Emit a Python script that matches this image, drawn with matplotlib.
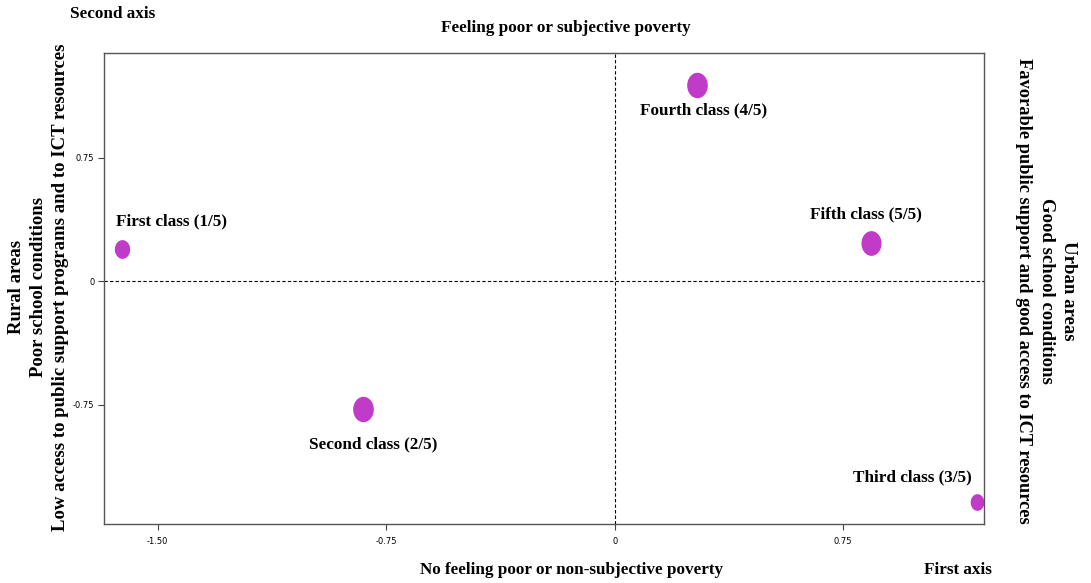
import numpy as np
import matplotlib.pyplot as plt
from matplotlib.path import Path

# Coordenadas de las clases en el plano factorial
classes = ['First class (1/5)', 'Second class (2/5)', 'Third class (3/5)',
           'Fourth class (4/5)', 'Fifth class (5/5)']
axis1 = [-1.618, -0.827, 1.188, 0.269, 0.841]
axis2 = [0.196, -0.776, -1.342, 1.189, 0.232]

xticks = [-1.50, -0.75, 0, 0.75]
xtick_labels = ['-1.50', '-0.75', '0', '0.75']
yticks = [-0.75, 0, 0.75]
ytick_labels = ['-0.75', '0', '0.75']

# estilo de los marcadores y etiquetas
marker_h = [12.5, 17.3, 11.0, 17.3, 16.8]
label_offset = [(-6, 27, 'left'), (11, -35, 'center'), (-5, 25, 'right'),
                (7, -25, 'center'), (-5, 28, 'center')]
color = '#C03CC8'

t = np.linspace(0, 2 * np.pi, 60)
ellipse = Path(np.column_stack([0.4 * np.cos(t), 0.5 * np.sin(t)]))

serif = ['Liberation Serif', 'DejaVu Serif']

fig = plt.figure(figsize=(10.91, 5.83), dpi=100)
ax = fig.add_axes([0.0953, 0.1012, 0.8066, 0.8078])

ax.axhline(0, color='black', lw=0.8, ls=(0, (3, 2)))
ax.axvline(0, color='black', lw=0.8, ls=(0, (3, 2)))

for name, x, y, h, (dx, dy, ha) in zip(classes, axis1, axis2, marker_h, label_offset):
    ax.plot(x, y, marker=ellipse, ms=h, color=color, mec=color, ls='none')
    ax.annotate(name, (x, y), xytext=(dx, dy), textcoords='offset pixels',
                ha=ha, va='center', fontsize=12.3, fontweight='bold', family=serif)

ax.set_xlim(-1.676, 1.212)
ax.set_ylim(-1.474, 1.384)
ax.set_xticks(xticks)
ax.set_xticklabels(xtick_labels)
ax.set_yticks(yticks)
ax.set_yticklabels(ytick_labels)
ax.tick_params(labelsize=6, length=4, width=0.8, color='#444444')
ax.tick_params(axis='x', pad=5)
ax.tick_params(axis='y', pad=3)
for s in ax.spines.values():
    s.set_color('#555555')
    s.set_linewidth(1)

bold = dict(fontweight='bold', family=serif)
fig.text(0.519, 0.952, 'Feeling poor or subjective poverty', ha='center', va='center', fontsize=12.3, **bold)
fig.text(0.064, 0.976, 'Second axis', ha='left', va='center', fontsize=12.3, **bold)
fig.text(0.524, 0.022, 'No feeling poor or non-subjective poverty', ha='center', va='center', fontsize=12.3, **bold)
fig.text(0.847, 0.022, 'First axis', ha='left', va='center', fontsize=12.3, **bold)

fig.text(0.0155, 0.508, 'Rural areas', rotation=90, ha='center', va='center', fontsize=13.5, **bold)
fig.text(0.0355, 0.508, 'Poor school conditions', rotation=90, ha='center', va='center', fontsize=13.5, **bold)
fig.text(0.0555, 0.508, 'Low access to public support programs and to ICT resources', rotation=90,
         ha='center', va='center', fontsize=13.5, **bold)

fig.text(0.979, 0.501, 'Urban areas', rotation=270, ha='center', va='center', fontsize=13.5, **bold)
fig.text(0.959, 0.501, 'Good school conditions', rotation=270, ha='center', va='center', fontsize=13.5, **bold)
fig.text(0.9385, 0.501, 'Favorable public support and good access to ICT resources', rotation=270,
         ha='center', va='center', fontsize=13.2, **bold)

fig.savefig('out.png', dpi=100)
